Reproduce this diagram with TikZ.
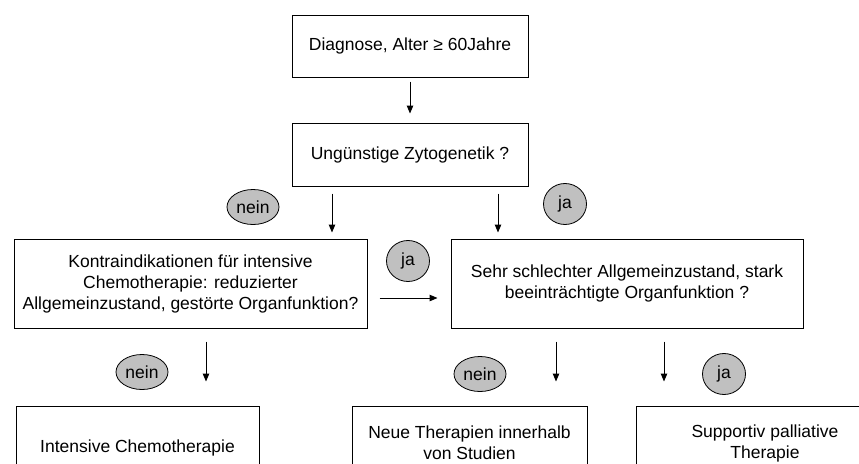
\documentclass[tikz,border=0pt]{standalone}
\usepackage{fontspec}
\setmainfont{Liberation Sans}
\usetikzlibrary{positioning,calc,arrows.meta,shapes.geometric}
\definecolor{bubblegray}{RGB}{192,192,192}
\tikzset{dbox/.style={draw, line width=1pt, inner sep=2pt, align=center, font=\fontsize{17.5}{21}\selectfont}}
\tikzset{dbubble/.style={ellipse, draw, line width=0.8pt, fill=bubblegray, inner sep=0pt, font=\fontsize{17.5}{21}\selectfont}}
\tikzset{arr/.style={draw, line width=1pt, -{Triangle[length=8pt,width=6.5pt]}}}
\tikzset{nein/.style={dbubble, minimum width=52pt, minimum height=35pt}}
\tikzset{ja/.style={dbubble, minimum width=43pt, minimum height=41pt}}

\begin{document}
\begin{tikzpicture}[x=1pt,y=-1pt]
    \clip (0,0) rectangle (859,463);
    %
    \node[dbox, minimum width=236pt, minimum height=62pt] (diag) at (410,46) {Diagnose, Alter ≥ 60Jahre};
    \node[dbox, minimum width=236pt, minimum height=63pt] (zyto) at (410,154.5) {Ungünstige Zytogenetik ?};
    \node[dbox, minimum width=353pt, minimum height=89pt] (kontra) at (190.5,283.5)
        {Kontraindikationen für intensive\\Chemotherapie: reduzierter\\Allgemeinzustand, gestörte Organfunktion?};
    \node[dbox, minimum width=352pt, minimum height=89pt] (sehr) at (627,283.5)
        {Sehr schlechter Allgemeinzustand, stark\\beeinträchtigte Organfunktion ?};
    \node[dbox, minimum width=243pt, minimum height=84pt] (intens) at (137.5,448) {Intensive Chemotherapie};
    \node[dbox, minimum width=235pt, minimum height=74pt] (neue) at (469.5,443) {Neue Therapien innerhalb\\von Studien};
    \node[dbox, minimum width=258pt, minimum height=74pt] (supp) at (765,443) {Supportiv palliative\\Therapie};
    %
    \node[nein] (nein1) at (253,207) {nein};
    \node[ja] (ja1) at (565,204) {ja};
    \node[ja] (ja2) at (408,261) {ja};
    \node[nein] (nein2) at (142,372) {nein};
    \node[nein] (nein3) at (480,374) {nein};
    \node[ja] (ja3) at (724,374) {ja};
    %
    \draw[arr, shorten <=4pt, shorten >=9pt] (diag) -- (zyto);
    \draw[arr, shorten <=7pt, shorten >=6pt] ([xshift=-78pt]zyto.south) -- ([xshift=-78pt]zyto.south |- kontra.north);
    \draw[arr, shorten <=7pt, shorten >=6pt] ([xshift=88pt]zyto.south) -- ([xshift=88pt]zyto.south |- sehr.north);
    %
    \draw[arr, shorten <=12pt, shorten >=13pt] ([yshift=-14.5pt]kontra.east) -- ([yshift=-14.5pt]kontra.east -| sehr.west);
    %
    \draw[arr, shorten <=13pt, shorten >=24pt] ([xshift=15.5pt]kontra.south) -- ([xshift=15.5pt]kontra.south |- intens.north);
    \draw[arr, shorten <=13pt, shorten >=24pt] ([xshift=-71pt]sehr.south) -- ([xshift=-71pt]sehr.south |- neue.north);
    \draw[arr, shorten <=13pt, shorten >=24pt] ([xshift=37pt]sehr.south) -- ([xshift=37pt]sehr.south |- supp.north);
    %
\end{tikzpicture}
\end{document}
